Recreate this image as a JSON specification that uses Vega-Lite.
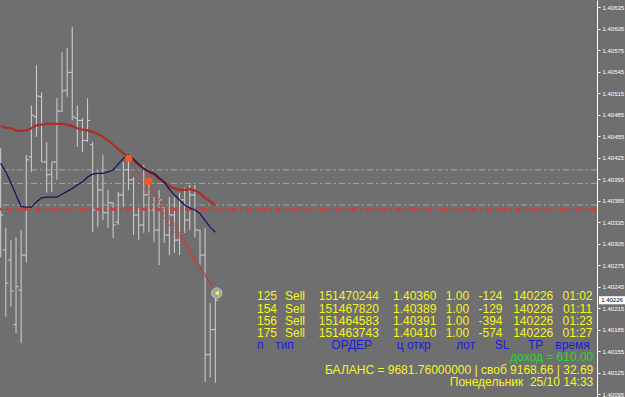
{
  "$schema": "https://vega.github.io/schema/vega-lite/v6.json",
  "width": 597,
  "height": 397,
  "autosize": {"type": "none"},
  "padding": {"left": 0, "top": 0, "right": 28, "bottom": 0},
  "background": "#6f6f6f",
  "config": {"view": {"stroke": null}, "font": "Liberation Sans"},
  "datasets": {
    "bars": [
      {"bar": 0, "open": 1.40422, "high": 1.40438, "low": 1.40286, "close": 1.40345, "ma": 1.40469, "sig": 1.40417},
      {"bar": 1, "open": 1.40296, "high": 1.40327, "low": 1.40203, "close": 1.40250, "ma": 1.40467, "sig": 1.40405},
      {"bar": 2, "open": 1.40282, "high": 1.40310, "low": 1.40217, "close": 1.40239, "ma": 1.40466, "sig": 1.40390},
      {"bar": 3, "open": 1.40192, "high": 1.40314, "low": 1.40180, "close": 1.40245, "ma": 1.40463, "sig": 1.40373},
      {"bar": 4, "open": 1.40240, "high": 1.40324, "low": 1.40166, "close": 1.40289, "ma": 1.40462, "sig": 1.40357},
      {"bar": 5, "open": 1.40289, "high": 1.40429, "low": 1.40279, "close": 1.40422, "ma": 1.40463, "sig": 1.40356},
      {"bar": 6, "open": 1.40426, "high": 1.40498, "low": 1.40405, "close": 1.40484, "ma": 1.40466, "sig": 1.40356},
      {"bar": 7, "open": 1.40482, "high": 1.40554, "low": 1.40454, "close": 1.40511, "ma": 1.40470, "sig": 1.40363},
      {"bar": 8, "open": 1.40510, "high": 1.40516, "low": 1.40419, "close": 1.40419, "ma": 1.40471, "sig": 1.40369},
      {"bar": 9, "open": 1.40419, "high": 1.40447, "low": 1.40376, "close": 1.40401, "ma": 1.40472, "sig": 1.40370},
      {"bar": 10, "open": 1.40402, "high": 1.40419, "low": 1.40377, "close": 1.40419, "ma": 1.40472, "sig": 1.40370},
      {"bar": 11, "open": 1.40419, "high": 1.40508, "low": 1.40394, "close": 1.40490, "ma": 1.40472, "sig": 1.40370},
      {"bar": 12, "open": 1.40490, "high": 1.40572, "low": 1.40489, "close": 1.40518, "ma": 1.40472, "sig": 1.40374},
      {"bar": 13, "open": 1.40519, "high": 1.40578, "low": 1.40510, "close": 1.40544, "ma": 1.40471, "sig": 1.40378},
      {"bar": 14, "open": 1.40544, "high": 1.40607, "low": 1.40477, "close": 1.40482, "ma": 1.40469, "sig": 1.40382},
      {"bar": 15, "open": 1.40480, "high": 1.40498, "low": 1.40440, "close": 1.40477, "ma": 1.40466, "sig": 1.40387},
      {"bar": 16, "open": 1.40477, "high": 1.40480, "low": 1.40433, "close": 1.40449, "ma": 1.40464, "sig": 1.40391},
      {"bar": 17, "open": 1.40449, "high": 1.40508, "low": 1.40447, "close": 1.40477, "ma": 1.40463, "sig": 1.40398},
      {"bar": 18, "open": 1.40443, "high": 1.40447, "low": 1.40321, "close": 1.40352, "ma": 1.40461, "sig": 1.40402},
      {"bar": 19, "open": 1.40352, "high": 1.40408, "low": 1.40328, "close": 1.40380, "ma": 1.40458, "sig": 1.40403},
      {"bar": 20, "open": 1.40380, "high": 1.40429, "low": 1.40338, "close": 1.40348, "ma": 1.40454, "sig": 1.40403},
      {"bar": 21, "open": 1.40348, "high": 1.40380, "low": 1.40327, "close": 1.40362, "ma": 1.40449, "sig": 1.40405},
      {"bar": 22, "open": 1.40362, "high": 1.40363, "low": 1.40313, "close": 1.40331, "ma": 1.40443, "sig": 1.40408},
      {"bar": 23, "open": 1.40335, "high": 1.40377, "low": 1.40331, "close": 1.40373, "ma": 1.40437, "sig": 1.40416},
      {"bar": 24, "open": 1.40373, "high": 1.40419, "low": 1.40356, "close": 1.40408, "ma": 1.40431, "sig": 1.40424},
      {"bar": 25, "open": 1.40408, "high": 1.40429, "low": 1.40380, "close": 1.40394, "ma": 1.40426, "sig": 1.40429},
      {"bar": 26, "open": 1.40394, "high": 1.40398, "low": 1.40317, "close": 1.40345, "ma": 1.40420, "sig": 1.40423},
      {"bar": 27, "open": 1.40345, "high": 1.40355, "low": 1.40310, "close": 1.40331, "ma": 1.40415, "sig": 1.40416},
      {"bar": 28, "open": 1.40331, "high": 1.40415, "low": 1.40320, "close": 1.40373, "ma": 1.40409, "sig": 1.40410},
      {"bar": 29, "open": 1.40373, "high": 1.40390, "low": 1.40321, "close": 1.40352, "ma": 1.40405, "sig": 1.40406},
      {"bar": 30, "open": 1.40352, "high": 1.40370, "low": 1.40307, "close": 1.40324, "ma": 1.40401, "sig": 1.40403},
      {"bar": 31, "open": 1.40324, "high": 1.40380, "low": 1.40275, "close": 1.40366, "ma": 1.40395, "sig": 1.40397},
      {"bar": 32, "open": 1.40355, "high": 1.40356, "low": 1.40306, "close": 1.40317, "ma": 1.40391, "sig": 1.40391},
      {"bar": 33, "open": 1.40317, "high": 1.40370, "low": 1.40289, "close": 1.40345, "ma": 1.40385, "sig": 1.40381},
      {"bar": 34, "open": 1.40345, "high": 1.40370, "low": 1.40292, "close": 1.40310, "ma": 1.40382, "sig": 1.40373},
      {"bar": 35, "open": 1.40310, "high": 1.40376, "low": 1.40289, "close": 1.40366, "ma": 1.40380, "sig": 1.40366},
      {"bar": 36, "open": 1.40366, "high": 1.40383, "low": 1.40320, "close": 1.40338, "ma": 1.40380, "sig": 1.40359},
      {"bar": 37, "open": 1.40338, "high": 1.40387, "low": 1.40324, "close": 1.40373, "ma": 1.40381, "sig": 1.40355},
      {"bar": 38, "open": 1.40373, "high": 1.40387, "low": 1.40314, "close": 1.40324, "ma": 1.40379, "sig": 1.40352},
      {"bar": 39, "open": 1.40324, "high": 1.40324, "low": 1.40275, "close": 1.40289, "ma": 1.40375, "sig": 1.40347},
      {"bar": 40, "open": 1.40289, "high": 1.40327, "low": 1.40112, "close": 1.40150, "ma": 1.40369, "sig": 1.40337},
      {"bar": 41, "open": 1.40150, "high": 1.40222, "low": 1.40118, "close": 1.40185, "ma": 1.40364, "sig": 1.40328},
      {"bar": 42, "open": 1.40185, "high": 1.40231, "low": 1.40111, "close": 1.40226, "ma": 1.40358, "sig": 1.40321}
    ],
    "levels": [
      {"price": 1.40618, "kind": "line"},
      {"price": 1.40408, "kind": "open"},
      {"price": 1.40389, "kind": "open"},
      {"price": 1.40359, "kind": "open"},
      {"price": 1.40353, "kind": "stop"}
    ],
    "trades": [
      {"id": "a", "bar": 25.05, "price": 1.40424},
      {"id": "a", "bar": 42.27, "price": 1.40236},
      {"id": "b", "bar": 25.3, "price": 1.40410},
      {"id": "b", "bar": 42.27, "price": 1.40236},
      {"id": "c", "bar": 28.88, "price": 1.40392},
      {"id": "c", "bar": 42.27, "price": 1.40236},
      {"id": "d", "bar": 29.22, "price": 1.40384},
      {"id": "d", "bar": 42.27, "price": 1.40236}
    ],
    "signals": [
      {"bar": 25.05, "price": 1.40424},
      {"bar": 28.9, "price": 1.40392}
    ],
    "closeMark": [{"bar": 42.27, "price": 1.40236}],
    "last": [{"price": 1.40226, "label": "1.40226"}],
    "table": [
      {"line": 1, "col": 1, "text": "125", "kind": "row"},
      {"line": 1, "col": 2, "text": "Sell", "kind": "row"},
      {"line": 1, "col": 3, "text": "151470244", "kind": "row"},
      {"line": 1, "col": 4, "text": "1.40360", "kind": "row"},
      {"line": 1, "col": 5, "text": "1.00", "kind": "row"},
      {"line": 1, "col": 6, "text": "-124", "kind": "row"},
      {"line": 1, "col": 7, "text": "140226", "kind": "row"},
      {"line": 1, "col": 8, "text": "01:02", "kind": "row"},
      {"line": 2, "col": 1, "text": "154", "kind": "row"},
      {"line": 2, "col": 2, "text": "Sell", "kind": "row"},
      {"line": 2, "col": 3, "text": "151467820", "kind": "row"},
      {"line": 2, "col": 4, "text": "1.40389", "kind": "row"},
      {"line": 2, "col": 5, "text": "1.00", "kind": "row"},
      {"line": 2, "col": 6, "text": "-129", "kind": "row"},
      {"line": 2, "col": 7, "text": "140226", "kind": "row"},
      {"line": 2, "col": 8, "text": "01:11", "kind": "row"},
      {"line": 3, "col": 1, "text": "156", "kind": "row"},
      {"line": 3, "col": 2, "text": "Sell", "kind": "row"},
      {"line": 3, "col": 3, "text": "151464583", "kind": "row"},
      {"line": 3, "col": 4, "text": "1.40391", "kind": "row"},
      {"line": 3, "col": 5, "text": "1.00", "kind": "row"},
      {"line": 3, "col": 6, "text": "-394", "kind": "row"},
      {"line": 3, "col": 7, "text": "140226", "kind": "row"},
      {"line": 3, "col": 8, "text": "01:23", "kind": "row"},
      {"line": 4, "col": 1, "text": "175", "kind": "row"},
      {"line": 4, "col": 2, "text": "Sell", "kind": "row"},
      {"line": 4, "col": 3, "text": "151463743", "kind": "row"},
      {"line": 4, "col": 4, "text": "1.40410", "kind": "row"},
      {"line": 4, "col": 5, "text": "1.00", "kind": "row"},
      {"line": 4, "col": 6, "text": "-574", "kind": "row"},
      {"line": 4, "col": 7, "text": "140226", "kind": "row"},
      {"line": 4, "col": 8, "text": "01:27", "kind": "row"},
      {"line": 5, "col": 9, "text": "п", "kind": "head"},
      {"line": 5, "col": 10, "text": "тип", "kind": "head"},
      {"line": 5, "col": 11, "text": "ОРДЕР", "kind": "head"},
      {"line": 5, "col": 12, "text": "ц откр", "kind": "head"},
      {"line": 5, "col": 13, "text": "лот", "kind": "head"},
      {"line": 5, "col": 14, "text": "SL", "kind": "head"},
      {"line": 5, "col": 15, "text": "TP", "kind": "head"},
      {"line": 5, "col": 16, "text": "время", "kind": "head"}
    ],
    "footer": [
      {"line": 6, "text": "доход = 610.00", "kind": "profit"},
      {"line": 7, "text": "БАЛАНС = 9681.76000000 | своб 9168.66 | 32.69", "kind": "balance"},
      {"line": 8, "text": "Понедельник \u00a025/10 14:33", "kind": "date"}
    ]
  },
  "layer": [
    {
      "data": {"name": "bars"},
      "mark": {"type": "rule", "color": "#d2d2d2", "strokeWidth": 1},
      "encoding": {
        "x": {"field": "bar", "type": "quantitative", "scale": {"domain": [-0.137, 116.69], "nice": false, "zero": false}, "axis": null},
        "y": {"field": "high", "type": "quantitative", "scale": {"domain": [1.40091, 1.40645], "nice": false, "zero": false}, "axis": null},
        "y2": {"field": "low"}
      }
    },
    {
      "data": {"name": "bars"},
      "mark": {"type": "tick", "orient": "horizontal", "size": 2.5, "thickness": 1, "xOffset": -1.5, "color": "#d2d2d2", "opacity": 1},
      "encoding": {
        "x": {"field": "bar", "type": "quantitative", "scale": {"domain": [-0.137, 116.69], "nice": false, "zero": false}, "axis": null},
        "y": {"field": "open", "type": "quantitative", "scale": {"domain": [1.40091, 1.40645], "nice": false, "zero": false}, "axis": null}
      }
    },
    {
      "data": {"name": "bars"},
      "mark": {"type": "tick", "orient": "horizontal", "size": 2.5, "thickness": 1, "xOffset": 1.5, "color": "#d2d2d2", "opacity": 1},
      "encoding": {
        "x": {"field": "bar", "type": "quantitative", "scale": {"domain": [-0.137, 116.69], "nice": false, "zero": false}, "axis": null},
        "y": {"field": "close", "type": "quantitative", "scale": {"domain": [1.40091, 1.40645], "nice": false, "zero": false}, "axis": null}
      }
    },
    {
      "data": {"name": "levels"},
      "transform": [{"filter": "datum.kind == 'line'"}],
      "mark": {"type": "rule", "color": "#b84c4c", "strokeWidth": 1, "strokeDash": [7, 3, 2, 3]},
      "encoding": {
        "y": {"field": "price", "type": "quantitative", "scale": {"domain": [1.40091, 1.40645], "nice": false, "zero": false},
          "axis": {"orient": "right", "title": null, "grid": false,
            "values": [1.40095, 1.40125, 1.40155, 1.40185, 1.40215, 1.40245, 1.40275, 1.40305, 1.40335, 1.40365, 1.40395, 1.40425, 1.40455, 1.40485, 1.40515, 1.40545, 1.40575, 1.40605, 1.40635],
            "format": ".5f", "labelFontSize": 6, "labelColor": "#ffffff", "domainColor": "#ffffff", "tickColor": "#ffffff",
            "tickSize": 3, "labelPadding": 2, "labelFlush": false, "labelOverlap": false, "labelFont": "Liberation Sans", "domainWidth": 1, "tickWidth": 1}}
      }
    },
    {
      "data": {"name": "levels"},
      "transform": [{"filter": "datum.kind == 'open'"}],
      "mark": {"type": "rule", "color": "#a6a6a6", "strokeWidth": 1, "strokeDash": [6, 3, 2, 3]},
      "encoding": {
        "y": {"field": "price", "type": "quantitative", "scale": {"domain": [1.40091, 1.40645], "nice": false, "zero": false}, "axis": null}
      }
    },
    {
      "data": {"name": "levels"},
      "transform": [{"filter": "datum.kind == 'stop'"}],
      "mark": {"type": "rule", "color": "#b84848", "strokeWidth": 3, "strokeDash": [7, 3, 2, 3]},
      "encoding": {
        "y": {"field": "price", "type": "quantitative", "scale": {"domain": [1.40091, 1.40645], "nice": false, "zero": false}, "axis": null}
      }
    },
    {
      "data": {"name": "trades"},
      "mark": {"type": "line", "color": "#c43c3c", "strokeWidth": 1, "strokeDash": [2, 2]},
      "encoding": {
        "x": {"field": "bar", "type": "quantitative", "scale": {"domain": [-0.137, 116.69], "nice": false, "zero": false}, "axis": null},
        "y": {"field": "price", "type": "quantitative", "scale": {"domain": [1.40091, 1.40645], "nice": false, "zero": false}, "axis": null},
        "detail": {"field": "id", "type": "nominal"}
      }
    },
    {
      "data": {"name": "bars"},
      "mark": {"type": "line", "color": "#b02c28", "strokeWidth": 2.2},
      "encoding": {
        "x": {"field": "bar", "type": "quantitative", "scale": {"domain": [-0.137, 116.69], "nice": false, "zero": false}, "axis": null},
        "y": {"field": "ma", "type": "quantitative", "scale": {"domain": [1.40091, 1.40645], "nice": false, "zero": false}, "axis": null}
      }
    },
    {
      "data": {"name": "bars"},
      "mark": {"type": "line", "color": "#15155c", "strokeWidth": 1.3},
      "encoding": {
        "x": {"field": "bar", "type": "quantitative", "scale": {"domain": [-0.137, 116.69], "nice": false, "zero": false}, "axis": null},
        "y": {"field": "sig", "type": "quantitative", "scale": {"domain": [1.40091, 1.40645], "nice": false, "zero": false}, "axis": null}
      }
    },
    {
      "data": {"name": "signals"},
      "mark": {"type": "point", "shape": "circle", "filled": true, "size": 55, "color": "#ff561c", "opacity": 1},
      "encoding": {
        "x": {"field": "bar", "type": "quantitative", "scale": {"domain": [-0.137, 116.69], "nice": false, "zero": false}, "axis": null},
        "y": {"field": "price", "type": "quantitative", "scale": {"domain": [1.40091, 1.40645], "nice": false, "zero": false}, "axis": null}
      }
    },
    {
      "data": {"name": "closeMark"},
      "mark": {"type": "point", "shape": "circle", "filled": true, "size": 110, "color": "#a4a4a4", "stroke": "#bdbdbd", "strokeWidth": 1, "opacity": 1},
      "encoding": {
        "x": {"field": "bar", "type": "quantitative", "scale": {"domain": [-0.137, 116.69], "nice": false, "zero": false}, "axis": null},
        "y": {"field": "price", "type": "quantitative", "scale": {"domain": [1.40091, 1.40645], "nice": false, "zero": false}, "axis": null}
      }
    },
    {
      "data": {"name": "closeMark"},
      "mark": {"type": "point", "shape": "triangle-left", "filled": true, "size": 22, "color": "#ffff3a", "opacity": 1},
      "encoding": {
        "x": {"field": "bar", "type": "quantitative", "scale": {"domain": [-0.137, 116.69], "nice": false, "zero": false}, "axis": null},
        "y": {"field": "price", "type": "quantitative", "scale": {"domain": [1.40091, 1.40645], "nice": false, "zero": false}, "axis": null}
      }
    },
    {
      "data": {"name": "last"},
      "mark": {"type": "point", "shape": "M-1,-0.31L1,-0.31L1,0.31L-1,0.31Z", "filled": true, "size": 676, "color": "#ffffff", "opacity": 1},
      "encoding": {
        "x": {"datum": 119.63, "type": "quantitative", "scale": {"domain": [-0.137, 116.69], "nice": false, "zero": false}, "axis": null},
        "y": {"field": "price", "type": "quantitative", "scale": {"domain": [1.40091, 1.40645], "nice": false, "zero": false}, "axis": null}
      }
    },
    {
      "data": {"name": "last"},
      "mark": {"type": "text", "fontSize": 6, "color": "#000000", "align": "center", "baseline": "middle", "font": "Liberation Sans"},
      "encoding": {
        "x": {"datum": 119.63, "type": "quantitative", "scale": {"domain": [-0.137, 116.69], "nice": false, "zero": false}, "axis": null},
        "y": {"field": "price", "type": "quantitative", "scale": {"domain": [1.40091, 1.40645], "nice": false, "zero": false}, "axis": null},
        "text": {"field": "label"}
      }
    },
    {
      "data": {"name": "table"},
      "mark": {"type": "text", "fontSize": 12, "font": "Liberation Sans", "align": "center", "baseline": "middle"},
      "encoding": {
        "x": {"field": "col", "type": "quantitative", "axis": null,
          "scale": {"domain": [1, 2, 3, 4, 5, 6, 7, 8, 9, 10, 11, 12, 13, 14, 15, 16],
            "range": [267, 295, 348.8, 414.7, 457.5, 490.5, 533.2, 577.5, 260.3, 284.5, 351.7, 413.7, 465.7, 502.2, 535.7, 572.5], "nice": false, "zero": false}},
        "y": {"field": "line", "type": "quantitative", "axis": null, "scale": {"domain": [1, 8], "range": [296.3, 381.7], "nice": false, "zero": false}},
        "text": {"field": "text"},
        "color": {"field": "kind", "type": "nominal", "legend": null, "scale": {"domain": ["row", "head"], "range": ["#f5f520", "#1c1cd6"]}}
      }
    },
    {
      "data": {"name": "footer"},
      "mark": {"type": "text", "fontSize": 12, "font": "Liberation Sans", "align": "right", "baseline": "middle"},
      "encoding": {
        "x": {"datum": 1, "type": "quantitative", "axis": null, "scale": {"domain": [0, 1], "range": [0, 593.3], "nice": false, "zero": false}},
        "y": {"field": "line", "type": "quantitative", "axis": null, "scale": {"domain": [1, 8], "range": [296.3, 381.7], "nice": false, "zero": false}},
        "text": {"field": "text"},
        "color": {"field": "kind", "type": "nominal", "legend": null, "scale": {"domain": ["profit", "balance", "date"], "range": ["#2fd42f", "#f5f520", "#f5f520"]}}
      }
    }
  ],
  "resolve": {"scale": {"x": "independent", "y": "independent", "color": "independent"}}
}
